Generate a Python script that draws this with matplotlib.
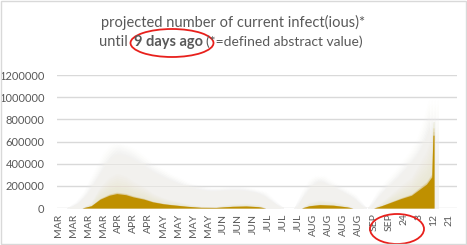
import matplotlib.pyplot as plt
import numpy as np
from matplotlib.patches import Ellipse, Rectangle

plt.rcParams['font.family'] = ['Lato', 'DejaVu Sans']

# x tick labels (one per week)
xlabels = ['MAR', 'MAR', 'MAR', 'MAR', 'APR', 'APR', 'APR', 'MAY', 'MAY', 'MAY', 'MAY',
           'JUN', 'JUN', 'JUN', 'JUL', 'JUL', 'JUL', 'AUG', 'AUG', 'AUG', 'AUG',
           'SEP', 'SEP', '24', '3', '12', '21']

# lower (dark gold) estimate, x in week units
gold_x = [0, 1.6, 2.2, 2.8, 3.4, 3.9, 4.5, 5.0, 5.7, 6.3, 7.0, 7.5, 8.6, 9.5, 10.5, 11.0,
          11.6, 12.5, 13.3, 13.8, 16.2, 16.7, 17.4, 18.3, 19.2, 19.6, 21.0, 21.5, 21.9,
          22.4, 22.8, 23.5, 24.1, 24.5, 24.85, 24.93, 25.0]
gold_y = [0, 0, 20000, 80000, 115000, 130000, 120000, 100000, 80000, 55000, 38000, 30000,
          15000, 6000, 5000, 10000, 15000, 18000, 12000, 0, 0, 20000, 30000, 25000, 10000,
          0, 0, 20000, 40000, 65000, 85000, 115000, 175000, 215000, 280000, 657000, 657000]

# upper (pale) estimate
fog_x = [0, 0.9, 1.5, 2.0, 2.7, 3.3, 3.8, 4.4, 5.0, 6.1, 7.2, 8.6, 10.0, 11.0, 11.6, 12.5,
         13.5, 14.2, 14.7, 16.0, 16.5, 17.0, 17.4, 18.0, 18.7, 19.5, 20.2, 20.9, 21.5,
         22.1, 22.7, 23.2, 23.7, 24.1, 24.5, 24.8, 24.95, 25.0]
fog_y = [0, 0, 60000, 150000, 340000, 500000, 582000, 560000, 520000, 400000, 310000,
         220000, 180000, 185000, 190000, 185000, 150000, 60000, 0, 0, 150000, 260000,
         295000, 240000, 190000, 120000, 0, 0, 150000, 250000, 340000, 430000, 520000,
         610000, 760000, 910000, 975000, 975000]

gold_x = np.array(gold_x)
gold_y = np.array(gold_y)
fog_x = np.array(fog_x)
fog_y = np.array(fog_y)

fig = plt.figure(figsize=(4.67, 2.45), dpi=100)
ax = fig.add_axes([57 / 467, 37 / 245, 400 / 467, 133 / 245])

# pale fog, several soft layers
for s in np.linspace(0.45, 1.0, 12):
    for dx in (-0.3, -0.1, 0.1, 0.3):
        ax.fill_between(fog_x + dx, 0, fog_y * s, color='#f2f1ee', alpha=0.07, lw=0)
# cream transition above the gold (kept below the pale top)
fog_at_gold = np.interp(gold_x, fog_x, fog_y)
for s in np.linspace(1.0, 2.4, 10):
    ax.fill_between(gold_x, 0, np.minimum(gold_y * s, fog_at_gold * 0.8),
                    color='#eadcb4', alpha=0.05, lw=0)
# gold core with soft edge
for s in (1.1, 1.05):
    ax.fill_between(gold_x, 0, gold_y * s, color='#c9a436', alpha=0.25, lw=0)
ax.fill_between(gold_x, 0, gold_y, color='#bf9000', lw=0)

ax.set_xlim(-0.07, 26.53)
ax.set_ylim(0, 1200000)
ax.set_yticks(np.arange(0, 1200001, 200000))
ax.set_yticklabels([str(v) for v in range(0, 1200001, 200000)])
ax.set_xticks(range(len(xlabels)))
ax.set_xticklabels(xlabels, rotation=90)
ax.grid(axis='y', color='#d9d9d9', lw=1)
ax.set_axisbelow(True)
for sp in ax.spines.values():
    sp.set_visible(False)
ax.tick_params(axis='y', length=0, labelsize=8, colors='#595959', pad=9)
ax.tick_params(axis='x', length=0, labelsize=7.5, colors='#595959', pad=4)

fig.text(233 / 467, 1 - 22 / 245, 'projected number of current infect(ious)*', ha='center',
         va='center', fontsize=10.5, color='#595959')
fig.text(128 / 467, 1 - 42 / 245, 'until', ha='right', va='center', fontsize=10.5,
         color='#595959')
fig.text(134 / 467, 1 - 42 / 245, '9 days ago', ha='left', va='center', fontsize=10.5,
         color='#595959', fontweight='bold')
fig.text(206 / 467, 1 - 42 / 245, '(*=defined abstract value)', ha='left', va='center',
         fontsize=10, color='#595959')

fig.patches.append(Ellipse((172 / 467, 1 - 43 / 245), 83 / 467, 28 / 245, fill=False,
                           ec='#e8201c', lw=1.3, transform=fig.transFigure))
fig.patches.append(Ellipse((397 / 467, 1 - 229 / 245), 54 / 467, 30 / 245, fill=False,
                           ec='#e8201c', lw=1.3, transform=fig.transFigure))
fig.patches.append(Rectangle((1 / 467, 1 / 245), 465 / 467, 243 / 245, fill=False,
                             ec='#d9d9d9', lw=1, transform=fig.transFigure))

fig.savefig('out.png', dpi=100, facecolor='white')
